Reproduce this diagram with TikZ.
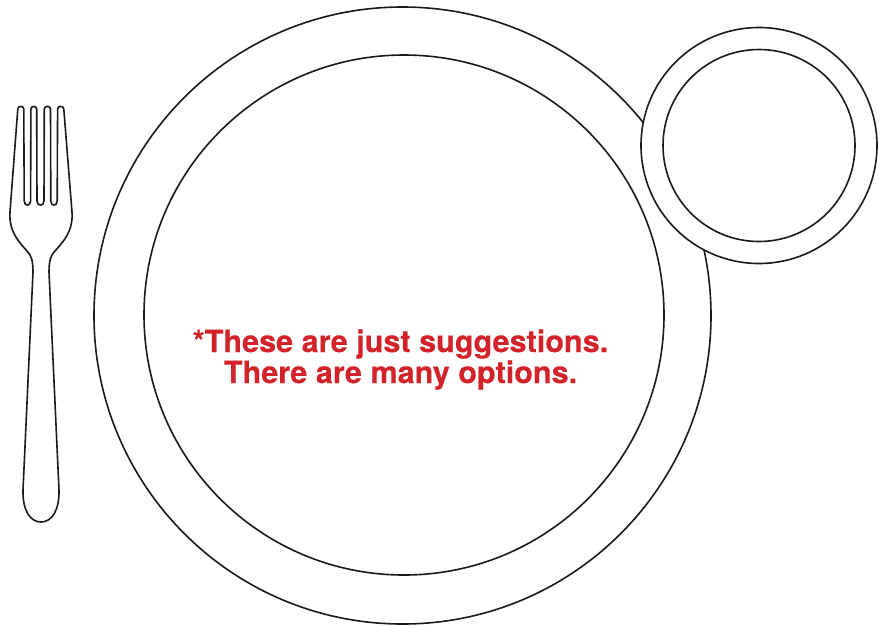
\documentclass[tikz,border=0pt]{standalone}
\usepackage{fontspec}
\setmainfont{TeX Gyre Heros}[BoldFeatures={FakeBold=0.25}]
\definecolor{redtxt}{HTML}{D2232A}
\definecolor{inkline}{HTML}{1A1A1A}
\tikzset{outline/.style={draw=inkline,line width=1.6pt,fill=white},
 dish/.style={circle,outline,inner sep=0pt,minimum size=#1}}
\begin{document}
\begin{tikzpicture}[x=1pt,y=-1pt]
\useasboundingbox[fill=white] (0,0) rectangle (882,625);
\node[dish=617pt] (plate) at (402.5,315.5) {};
\node[dish=520pt] (well) at (404,315) {};
\node[dish=236pt] (bowl) at (759,145.5) {};
\node[dish=192pt] (bowlin) at (759,145.5) {};
\draw[outline,line join=round]
 (17.8,109) .. controls (18,105.5) and (23.6,105.5) .. (23.8,109)
 -- (24.2,201) .. controls (24.2,206.5) and (30.6,206.5) .. (30.6,201)
 -- (30.9,109) .. controls (31,105.5) and (36.6,105.5) .. (36.7,109)
 -- (37,201) .. controls (37,206.5) and (44,206.5) .. (44,201)
 -- (44.3,109) .. controls (44.4,105.5) and (50.4,105.5) .. (50.5,109)
 -- (50.8,201) .. controls (50.8,206.5) and (57.2,206.5) .. (57.2,201)
 -- (57.6,109) .. controls (57.7,105.5) and (63.7,105.5) .. (63.8,109)
 -- (72,212) .. controls (73.5,232) and (62,243) .. (55,251)
 .. controls (51,255) and (49,260) .. (49,272)
 -- (59,490) .. controls (59.5,510) and (52,522) .. (41,522)
 .. controls (30,522) and (22.5,510) .. (23,490)
 -- (33,272) .. controls (33,260) and (31,255) .. (27,251)
 .. controls (20,243) and (8.5,232) .. (10,212)
 -- cycle;
\node[text=redtxt,font=\fontsize{30.6}{31}\selectfont\bfseries,align=center,inner sep=0pt] (note) at (400.5,359.5) {*These are just suggestions.\\There are many options.};
\end{tikzpicture}
\end{document}
